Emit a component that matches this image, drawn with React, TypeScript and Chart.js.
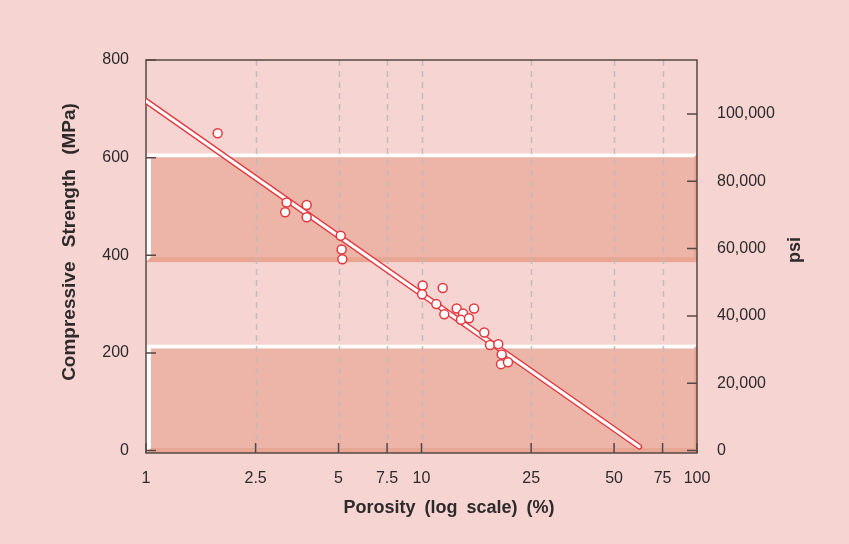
import React, { useEffect, useRef } from "react";
import { Chart, registerables } from "chart.js";

Chart.register(...registerables);

// ---- data ----
const porosity = [1.82, 3.24, 3.2, 3.83, 3.83, 5.09, 5.13, 5.16, 10.1, 10.05, 11.94, 11.32, 12.1, 13.42, 14.15, 13.91, 14.87, 15.51, 16.9, 17.73, 19.0, 19.55, 19.44, 20.6];
const strength = [650, 508, 488, 503, 478, 440, 412, 392, 338, 320, 333, 300, 279, 291, 281, 268, 271, 291, 242, 216, 218, 197, 177, 181];
const fitPorosity = [1, 61.7];
const fitStrength = [716, 8];
const xTicks = [1, 2.5, 5, 7.5, 10, 25, 50, 75, 100];
const yTicks = [0, 200, 400, 600, 800];
const psiTicks = [0, 20000, 40000, 60000, 80000, 100000];
const bandLow = [-5, 217];
const bandHigh = [386, 609];
const MPA_TO_PSI = 145.038;
const Y_MIN = -5;
const Y_MAX = 800;

// ---- style ----
const BG = "#F5D4D2";
const BAND = "#EDB5A8";
const BAND_EDGE = "#E8A693";
const GRID = "#C3BBBB";
const FRAME = "#564846";
const TEXT = "#2E2A2A";
const RED = "#E4373D";
const FONT = '"Liberation Sans", Arial, sans-serif';

function drawBand(ctx: CanvasRenderingContext2D, x0: number, x1: number, yt: number, yb: number) {
  const lw = 5, tw = 4, rw = 3, bw = 5;
  ctx.fillStyle = BAND_EDGE;
  ctx.fillRect(x0, yt, x1 - x0, yb - yt);
  ctx.fillStyle = BAND;
  ctx.fillRect(x0 + lw, yt + tw, x1 - x0 - lw - rw, yb - yt - tw - bw);
  ctx.fillStyle = "#FFFFFF";
  ctx.beginPath();
  ctx.moveTo(x0, yt);
  ctx.lineTo(x1, yt);
  ctx.lineTo(x1 - rw, yt + tw);
  ctx.lineTo(x0 + lw, yt + tw);
  ctx.closePath();
  ctx.fill();
  ctx.beginPath();
  ctx.moveTo(x0, yt);
  ctx.lineTo(x0 + lw, yt + tw);
  ctx.lineTo(x0 + lw, yb - bw);
  ctx.lineTo(x0, yb);
  ctx.closePath();
  ctx.fill();
}

const decor = {
  id: "decor",
  beforeDraw(chart: any) {
    const { ctx, chartArea: a, scales } = chart;
    ctx.save();
    ctx.fillStyle = BG;
    ctx.fillRect(0, 0, chart.width, chart.height);
    for (const [lo, hi] of [bandLow, bandHigh]) {
      const yt = scales.y.getPixelForValue(hi);
      const yb = Math.min(scales.y.getPixelForValue(lo), a.bottom);
      drawBand(ctx, a.left, a.right, yt, yb);
    }
    ctx.strokeStyle = GRID;
    ctx.lineWidth = 1.5;
    ctx.setLineDash([6, 5]);
    for (const v of xTicks) {
      if (v === xTicks[0] || v === xTicks[xTicks.length - 1]) continue;
      const x = Math.round(scales.x.getPixelForValue(v)) + 0.5;
      ctx.beginPath();
      ctx.moveTo(x, a.top);
      ctx.lineTo(x, a.bottom);
      ctx.stroke();
    }
    ctx.setLineDash([]);
    ctx.restore();
  },
  beforeDatasetsDraw(chart: any) {
    const { ctx, chartArea: a, scales } = chart;
    ctx.save();
    ctx.strokeStyle = FRAME;
    ctx.lineWidth = 1.5;
    ctx.strokeRect(a.left, a.top, a.right - a.left, a.bottom - a.top);
    const tl = 10;
    ctx.beginPath();
    for (const v of xTicks) {
      const x = scales.x.getPixelForValue(v);
      ctx.moveTo(x, a.bottom);
      ctx.lineTo(x, a.bottom - tl);
    }
    for (const v of yTicks) {
      const y = scales.y.getPixelForValue(v);
      ctx.moveTo(a.left, y);
      ctx.lineTo(a.left + tl, y);
    }
    for (const v of psiTicks) {
      const y = scales.y2.getPixelForValue(v);
      ctx.moveTo(a.right, y);
      ctx.lineTo(a.right - tl, y);
    }
    ctx.stroke();
    ctx.restore();
  },
  afterDraw(chart: any) {
    const { ctx } = chart;
    ctx.save();
    ctx.fillStyle = TEXT;
    ctx.font = `bold 18px ${FONT}`;
    ctx.textAlign = "center";
    ctx.textBaseline = "middle";
    try { (ctx as any).wordSpacing = "4px"; } catch (e) {}
    ctx.fillText("Porosity (log scale) (%)", 449, 508);
    ctx.font = `bold 19px ${FONT}`;
    try { (ctx as any).wordSpacing = "9px"; } catch (e) {}
    ctx.translate(70, 242);
    ctx.rotate(-Math.PI / 2);
    ctx.fillText("Compressive Strength (MPa)", 0, 0);
    ctx.restore();
    ctx.save();
    ctx.fillStyle = TEXT;
    ctx.font = `bold 18px ${FONT}`;
    ctx.textAlign = "center";
    ctx.textBaseline = "middle";
    ctx.translate(795, 250);
    ctx.rotate(-Math.PI / 2);
    ctx.fillText("psi", 0, 0);
    ctx.restore();
  },
};

export default function App() {
  const ref = useRef<HTMLCanvasElement | null>(null);
  useEffect(() => {
    document.body.style.margin = "0";
    document.body.style.background = BG;
    const canvas = ref.current;
    if (!canvas) return;
    const tickFont = { family: FONT, size: 16 };
    const chart = new Chart(canvas, {
      type: "scatter",
      data: {
        datasets: [
          {
            label: "samples",
            data: porosity.map((p, i) => ({ x: p, y: strength[i] })),
            pointRadius: 4.5,
            pointBorderWidth: 1.5,
            pointBackgroundColor: "#FFFFFF",
            pointBorderColor: RED,
            order: 0,
          } as any,
          {
            label: "fit-inner",
            data: fitPorosity.map((p, i) => ({ x: p, y: fitStrength[i] })),
            showLine: true,
            borderColor: "#FFFFFF",
            borderWidth: 3.2,
            borderCapStyle: "round",
            pointRadius: 0,
            clip: 0,
            order: 1,
          },
          {
            label: "fit-outer",
            data: fitPorosity.map((p, i) => ({ x: p, y: fitStrength[i] })),
            showLine: true,
            borderColor: RED,
            borderWidth: 6,
            borderCapStyle: "round",
            pointRadius: 0,
            clip: 0,
            order: 2,
          },
        ],
      },
      options: {
        responsive: false,
        animation: false,
        devicePixelRatio: 1,
        layout: { padding: { top: 60, left: 0, right: 0, bottom: 0 } },
        plugins: { legend: { display: false }, tooltip: { enabled: false } },
        scales: {
          x: {
            type: "logarithmic",
            position: "bottom",
            min: 1,
            max: 100,
            afterBuildTicks: (s: any) => { s.ticks = xTicks.map((v) => ({ value: v })); },
            afterFit: (s: any) => { s.height = 91; },
            grid: { display: false, drawTicks: false },
            border: { display: false },
            ticks: {
              autoSkip: false,
              maxRotation: 0,
              padding: 16,
              color: TEXT,
              font: tickFont,
              callback: (v: any) => String(v),
            },
          },
          y: {
            type: "linear",
            position: "left",
            min: Y_MIN,
            max: Y_MAX,
            afterBuildTicks: (s: any) => { s.ticks = yTicks.map((v) => ({ value: v })); },
            afterFit: (s: any) => { s.width = 146; },
            grid: { display: false, drawTicks: false },
            border: { display: false },
            ticks: { padding: 17, color: TEXT, font: tickFont, callback: (v: any) => String(v) },
          },
          y2: {
            type: "linear",
            position: "right",
            min: Y_MIN * MPA_TO_PSI,
            max: Y_MAX * MPA_TO_PSI,
            afterBuildTicks: (s: any) => { s.ticks = psiTicks.map((v) => ({ value: v })); },
            afterFit: (s: any) => { s.width = 152; },
            grid: { display: false, drawTicks: false },
            border: { display: false },
            ticks: {
              padding: 20,
              color: TEXT,
              font: tickFont,
              callback: (v: any) => Number(v).toLocaleString("en-US"),
            },
          },
        },
      } as any,
      plugins: [decor],
    });
    return () => chart.destroy();
  }, []);
  return (
    <canvas
      ref={ref}
      width={849}
      height={544}
      style={{ display: "block", width: 849, height: 544 }}
    />
  );
}
